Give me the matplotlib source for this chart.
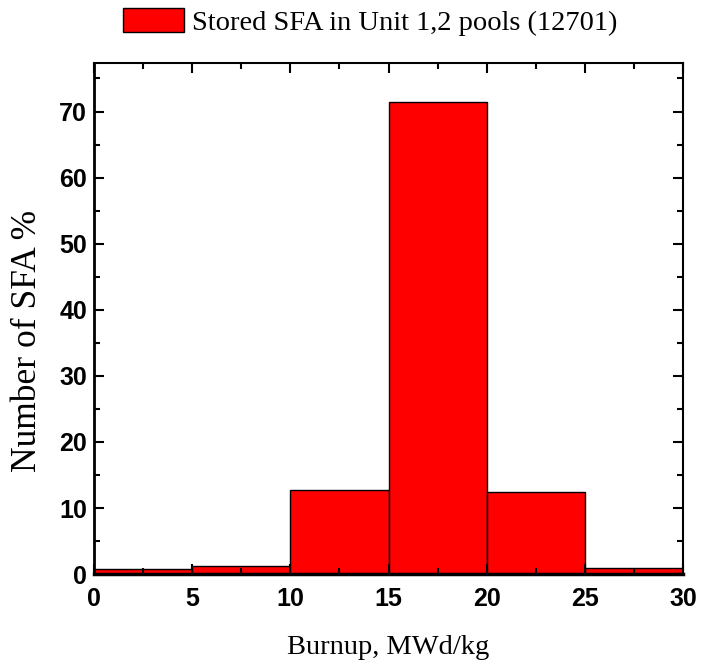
import numpy as np
import matplotlib.pyplot as plt
from matplotlib.ticker import MultipleLocator

# burnup bins (MWd/kg) and share of stored SFA (%)
bin_left = [0, 5, 10, 15, 20, 25]
bin_width = [5, 5, 5, 5, 5, 5]
percent = [0.8, 1.3, 12.7, 71.5, 12.4, 0.9]
label = 'Stored SFA in Unit 1,2 pools (12701)'

fig = plt.figure(figsize=(7.02, 6.66), dpi=100)
ax = fig.add_axes([0.134, 0.138, 0.839, 0.767])

ax.bar(bin_left, percent, width=bin_width, align='edge', color='#ff0000',
       edgecolor='black', linewidth=1.0, label=label)

ax.set_xlim(0, 30)
ax.set_ylim(0, 77.3)
ax.xaxis.set_major_locator(MultipleLocator(5))
ax.xaxis.set_minor_locator(MultipleLocator(2.5))
ax.yaxis.set_major_locator(MultipleLocator(10))
ax.yaxis.set_minor_locator(MultipleLocator(5))
ax.tick_params(which='both', direction='in', top=True, right=True, width=1.5)
ax.tick_params(which='major', length=7.5, labelsize=18)
ax.tick_params(which='minor', length=4.5)
ax.tick_params(axis='x', which='major', pad=9)
ax.tick_params(axis='y', which='major', pad=5)
for lab in ax.get_xticklabels() + ax.get_yticklabels():
    lab.set_fontfamily('Liberation Sans')
    lab.set_fontweight('bold')
for s in ax.spines.values():
    s.set_linewidth(1.5)
ax.spines['bottom'].set_linewidth(2.5)
ax.spines['left'].set_linewidth(2.0)

ax.set_xlabel('Burnup, MWd/kg', family='Liberation Serif', fontsize=20.5)
ax.set_ylabel('Number of SFA %', family='Liberation Serif', fontsize=25.5)
ax.xaxis.set_label_coords(0.5, -0.12)
ax.yaxis.set_label_coords(-0.085, 0.456)

leg = ax.legend(loc='center', bbox_to_anchor=(370 / 702, 1 - 22 / 666),
                bbox_transform=fig.transFigure, frameon=False,
                prop={'family': 'Liberation Serif', 'size': 20.5},
                handlelength=2.14, handleheight=0.88, handletextpad=0.3,
                borderpad=0.1)

fig.savefig('out.png', dpi=100)
